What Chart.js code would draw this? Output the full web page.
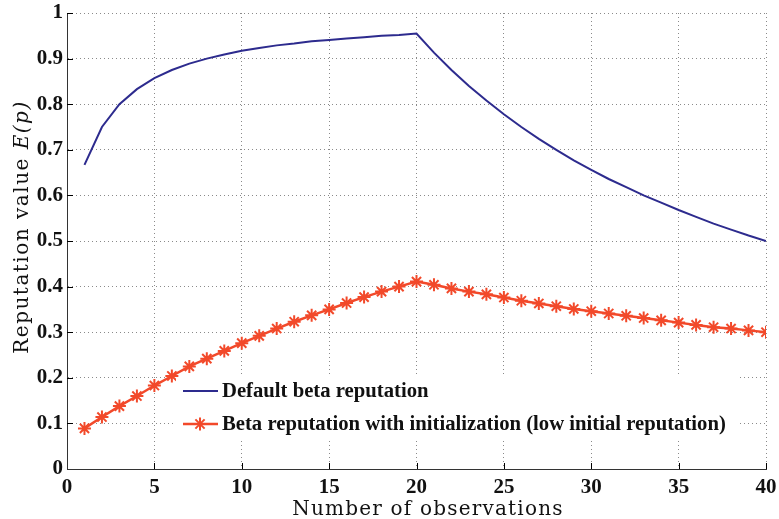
<!DOCTYPE html>
<html>
<head>
<meta charset="utf-8">
<script src="https://cdn.jsdelivr.net/npm/chart.js@4.4.1/dist/chart.umd.min.js"></script>
<style>
  html, body { margin:0; padding:0; background:#fff; }
  #wrap { width:779px; height:519px; }
</style>
</head>
<body>
<div id="wrap"><canvas id="chart" width="779" height="519"></canvas></div>
<script>
// observations (x)
const observations = [1,2,3,4,5,6,7,8,9,10,11,12,13,14,15,16,17,18,19,20,
                      21,22,23,24,25,26,27,28,29,30,31,32,33,34,35,36,37,38,39,40];
// default beta reputation
const defaultBeta = [0.667,0.750,0.800,0.833,0.857,0.875,0.889,0.900,0.909,0.917,
                     0.923,0.929,0.933,0.938,0.941,0.944,0.947,0.950,0.952,0.955,
                     0.913,0.875,0.840,0.808,0.778,0.750,0.724,0.700,0.677,0.656,
                     0.636,0.618,0.600,0.584,0.568,0.553,0.538,0.525,0.512,0.500];
// beta reputation with initialization (low initial reputation)
const initBeta = [0.089,0.114,0.138,0.160,0.183,0.204,0.225,0.242,0.259,0.276,
                  0.292,0.308,0.323,0.337,0.350,0.364,0.377,0.389,0.400,0.411,
                  0.404,0.396,0.389,0.383,0.376,0.369,0.363,0.357,0.351,0.346,
                  0.341,0.336,0.331,0.326,0.321,0.316,0.311,0.308,0.304,0.300];
const seriesLabels = ['Default beta reputation',
                      'Beta reputation with initialization (low initial reputation)'];
const xTitle = 'Number of observations';
const yTitle = 'Reputation value ';
const yTitleMath = 'E(p)';

const BLUE = '#2d2b8e', RED = '#f2492a';
const tickFont = { family:'Liberation Serif', size:21, weight:'bold' };

// axis titles, inward tick marks and in-plot legend
const extras = {
  id:'extras',
  afterDraw(chart) {
    const {ctx, chartArea:a, scales:{x, y}} = chart;
    ctx.save();
    // inward ticks
    ctx.strokeStyle = '#000'; ctx.lineWidth = 1;
    for (let v = 5; v <= 40; v += 5) {
      const px = Math.round(x.getPixelForValue(v)) + 0.5;
      ctx.beginPath(); ctx.moveTo(px, a.bottom); ctx.lineTo(px, a.bottom - 6); ctx.stroke();
    }
    for (let i = 1; i <= 10; i++) {
      const py = Math.round(y.getPixelForValue(i / 10)) + 0.5;
      ctx.beginPath(); ctx.moveTo(a.left, py); ctx.lineTo(a.left + 6, py); ctx.stroke();
    }
    // x title
    ctx.fillStyle = '#111';
    ctx.font = '20px "DejaVu Serif"';
    ctx.letterSpacing = '1.2px';
    ctx.textAlign = 'center'; ctx.textBaseline = 'alphabetic';
    ctx.fillText(xTitle, 428, 515);
    // y title (rotated, with italic math part)
    ctx.letterSpacing = '1.5px';
    ctx.translate(28, 227);
    ctx.rotate(-Math.PI / 2);
    ctx.font = '20px "DejaVu Serif"';
    const w1 = ctx.measureText(yTitle).width;
    ctx.font = 'italic 20px "DejaVu Serif"';
    const w2 = ctx.measureText(yTitleMath).width;
    ctx.textAlign = 'left';
    ctx.font = '20px "DejaVu Serif"';
    ctx.fillText(yTitle, -(w1 + w2) / 2, 0);
    ctx.font = 'italic 20px "DejaVu Serif"';
    ctx.fillText(yTitleMath, -(w1 + w2) / 2 + w1, 0);
    ctx.restore();

    // legend
    ctx.save();
    ctx.fillStyle = '#fff';
    ctx.fillRect(176, 377, 564, 62);
    ctx.font = 'bold 20.7px "Liberation Serif"';
    ctx.textBaseline = 'middle'; ctx.textAlign = 'left';
    const rows = [391, 424];
    const colors = [BLUE, RED];
    rows.forEach((ry, i) => {
      ctx.strokeStyle = colors[i]; ctx.lineWidth = i ? 2.5 : 2;
      ctx.beginPath(); ctx.moveTo(183, ry); ctx.lineTo(218, ry); ctx.stroke();
      if (i === 1) {
        ctx.lineWidth = 2;
        const r = 6.5, cx = 200;
        for (let k = 0; k < 4; k++) {
          const ang = k * Math.PI / 4;
          ctx.beginPath();
          ctx.moveTo(cx - r * Math.cos(ang), ry - r * Math.sin(ang));
          ctx.lineTo(cx + r * Math.cos(ang), ry + r * Math.sin(ang));
          ctx.stroke();
        }
      }
      ctx.fillStyle = '#111';
      ctx.fillText(seriesLabels[i], 222, ry + 1);
    });
    ctx.restore();
  }
};

new Chart(document.getElementById('chart'), {
  type:'line',
  data:{
    datasets:[
      { label:seriesLabels[0], data:observations.map((o, i) => ({x:o, y:defaultBeta[i]})),
        borderColor:BLUE, borderWidth:2, pointRadius:0, tension:0 },
      { label:seriesLabels[1], data:observations.map((o, i) => ({x:o, y:initBeta[i]})),
        borderColor:RED, borderWidth:2.5, pointStyle:'star', pointRadius:6.5,
        pointBorderWidth:2, pointBorderColor:RED, pointBackgroundColor:RED, tension:0 }
    ]
  },
  plugins:[extras],
  options:{
    responsive:false, animation:false,
    layout:{ autoPadding:false, padding:{ left:0, right:13, top:13, bottom:0 } },
    plugins:{ legend:{display:false}, tooltip:{enabled:false} },
    scales:{
      x:{ type:'linear', min:0, max:40,
          afterFit(s){ s.height = 50; s.paddingLeft = 0; s.paddingRight = 0; },
          ticks:{ stepSize:5, color:'#111', font:tickFont, padding:6, maxRotation:0 },
          grid:{ color:'#8a8a8a', lineWidth:1, drawTicks:false },
          border:{ display:true, color:'#333', width:1, dash:[1,3] } },
      y:{ min:0, max:1,
          afterFit(s){ s.width = 67; s.paddingTop = 0; s.paddingBottom = 0; },
          ticks:{ stepSize:0.1, color:'#111', font:tickFont, padding:4,
                  callback:v => +v.toFixed(1) },
          grid:{ color:'#8a8a8a', lineWidth:1, drawTicks:false },
          border:{ display:true, color:'#333', width:1, dash:[1,3] } }
    }
  }
});
</script>
</body>
</html>
